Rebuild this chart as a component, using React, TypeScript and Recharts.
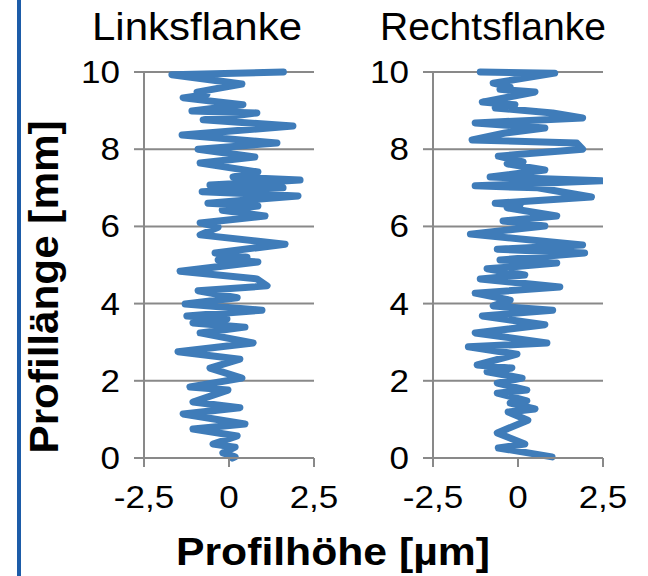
import React from 'react';
import { LineChart, Line, XAxis, YAxis, CartesianGrid } from 'recharts';

// Profillänge [mm] (von oben nach unten) und Profilhöhe [µm]
const linksLaenge: number[] = [
  10.0, 9.93, 9.69, 9.48, 9.42, 9.33, 9.15, 8.99, 8.94, 8.76, 8.6, 8.37, 8.16, 8.0, 7.8, 7.64,
  7.41, 7.28, 7.2, 7.07, 7.0, 6.9, 6.79, 6.6, 6.53, 6.42, 6.27, 6.09, 5.98, 5.78, 5.54, 5.31,
  5.2, 5.13, 5.08, 4.84, 4.64, 4.46, 4.33, 4.15, 3.99, 3.83, 3.68, 3.6, 3.5, 3.39, 3.24, 2.98,
  2.75, 2.56, 2.33, 2.07, 1.84, 1.76, 1.45, 1.3, 1.14, 0.88, 0.75, 0.57, 0.36, 0.28, 0.13, 0.03, 0.0,
];
const linksHoehe: number[] = [
  1.6, -1.68, 0.38, -0.94, -0.65, -1.35, 0.41, -1.09, 0.82, -0.76, 1.88, -1.38, 1.41, -0.91, 0.76, -0.85,
  0.85, 0.12, 2.09, -0.56, 1.59, -0.79, 2.03, -0.62, 0.85, -0.2, 1.06, -0.85, -0.32, -0.85, 1.65, -0.41,
  0.53, -0.32, 0.85, -1.44, 0.82, 1.12, -0.91, 0.24, -1.29, 0.97, -1.24, -0.06, -1.06, 0.47, -0.85, 0.71,
  -1.5, 0.32, -0.56, 0.38, -1.15, -0.03, -1.06, 0.32, -1.35, 0.47, -1.06, 0.24, -0.47, 0.18, -0.18, 0.18, 0.1,
];

const rechtsLaenge: number[] = [
  10.0, 9.97, 9.71, 9.61, 9.55, 9.48, 9.22, 9.15, 9.07, 8.94, 8.81, 8.68, 8.55, 8.42, 8.24, 8.16,
  8.0, 7.82, 7.67, 7.62, 7.46, 7.28, 7.18, 7.05, 7.0, 6.76, 6.6, 6.55, 6.48, 6.27, 6.14, 6.01,
  5.8, 5.52, 5.41, 5.31, 5.13, 5.05, 4.9, 4.74, 4.64, 4.43, 4.27, 4.09, 3.94, 3.83, 3.68, 3.45,
  3.24, 2.98, 2.88, 2.69, 2.41, 2.33, 2.23, 2.07, 1.94, 1.76, 1.68, 1.48, 1.42, 1.27, 1.19, 0.98,
  0.65, 0.36, 0.26, 0.03,
];
const rechtsHoehe: number[] = [
  -1.11, 1.08, -0.73, -0.23, -0.53, 0.5, -1.05, -0.09, -0.67, 1.02, 1.9, -1.26, 0.79, -0.38, -1.35, 1.73,
  1.9, -0.58, 0.15, -0.32, 0.79, -0.82, 2.46, -1.26, 0.58, 2.16, -0.67, 0.06, -0.32, 1.14, -0.44, 0.79,
  -1.4, 1.9, -0.61, 1.96, -0.53, 1.14, -0.91, 0.2, -1.11, 1.23, -1.26, -0.23, -0.73, 1.02, -1.05, 0.79,
  -1.26, 0.85, -1.46, -0.03, -1.2, -0.18, -0.91, 0.12, -0.61, 0.26, -0.61, 0.26, -0.23, 0.5, -0.29, 0.29,
  -0.61, 0.2, -0.58, 1.0,
];

const yTicks: number[] = [0, 2, 4, 6, 8, 10];
const xTicks: number[] = [-2.5, 0, 2.5];

const font = '"Liberation Sans", Arial, sans-serif';
const grau = '#898989';
const linie = '#3F7CB9';
const tickSize = 31;

const toRows = (laenge: number[], hoehe: number[]) =>
  laenge.map((y, i) => ({ y, h: hoehe[i] }));

const fmt = (v: number) => String(v).replace('.', ',');

// etwas breitere Ziffern wie im Original
const textWidth = (s: string) =>
  s.split('').reduce((w, c) => w + (c === '-' ? 0.333 : c === ',' ? 0.278 : 0.556), 0) * tickSize * 1.13;

const Tick = (props: any) => {
  const { x, y, payload, textAnchor, axis } = props;
  const label = fmt(payload.value);
  const dy = axis === 'x' ? '0.71em' : '0.355em';
  return (
    <text
      x={x}
      y={y}
      dy={dy}
      textAnchor={textAnchor}
      fontSize={tickSize}
      fontFamily={font}
      fill="#000"
      textLength={textWidth(label)}
      lengthAdjust="spacingAndGlyphs"
    >
      {label}
    </text>
  );
};

const ProfilePanel: React.FC<{ laenge: number[]; hoehe: number[]; left: number }> = ({ laenge, hoehe, left }) => (
  <div style={{ position: 'absolute', left, top: 0 }}>
    <LineChart
      width={350}
      height={576}
      layout="vertical"
      data={toRows(laenge, hoehe)}
      margin={{ top: 72, right: 36, bottom: 78, left: 104 }}
    >
      <CartesianGrid vertical={false} stroke={grau} strokeWidth={2} />
      <XAxis
        type="number"
        domain={[-2.5, 2.5]}
        ticks={xTicks}
        interval={0}
        allowDataOverflow
        height={40}
        tickSize={9}
        tickMargin={19}
        stroke={grau}
        strokeWidth={2}
        tick={(p: any) => <Tick {...p} axis="x" />}
      />
      <YAxis
        type="number"
        dataKey="y"
        domain={[0, 10]}
        ticks={yTicks}
        interval={0}
        reversed
        width={40}
        tickSize={10}
        tickMargin={14}
        stroke={grau}
        strokeWidth={2}
        tick={(p: any) => <Tick {...p} axis="y" />}
      />
      <Line
        dataKey="h"
        type="linear"
        stroke={linie}
        strokeWidth={7}
        strokeLinejoin="round"
        strokeLinecap="round"
        dot={false}
        isAnimationActive={false}
      />
    </LineChart>
  </div>
);

export default function App() {
  return (
    <div style={{ position: 'absolute', left: 0, top: 0, width: 648, height: 576, background: '#fff', fontFamily: font, overflow: 'hidden' }}>
      <ProfilePanel laenge={linksLaenge} hoehe={linksHoehe} left={0} />
      <ProfilePanel laenge={rechtsLaenge} hoehe={rechtsHoehe} left={289} />
      <svg width={648} height={576} style={{ position: 'absolute', left: 0, top: 0, pointerEvents: 'none' }}>
        <rect x={17} y={0} width={4} height={576} fill="#1D5CA8" />
        <text x={197} y={40} textAnchor="middle" fontSize={39} fontFamily={font} fill="#000" textLength={210} lengthAdjust="spacingAndGlyphs">Linksflanke</text>
        <text x={493} y={40} textAnchor="middle" fontSize={39} fontFamily={font} fill="#000" textLength={226} lengthAdjust="spacingAndGlyphs">Rechtsflanke</text>
        <text x={333} y={565} textAnchor="middle" fontSize={39} fontWeight="bold" fontFamily={font} fill="#000" textLength={314} lengthAdjust="spacingAndGlyphs">Profilhöhe [µm]</text>
        <text x={58} y={287} textAnchor="middle" fontSize={41} fontWeight="bold" fontFamily={font} fill="#000" transform="rotate(-90 58 287)" textLength={333} lengthAdjust="spacingAndGlyphs">Profillänge [mm]</text>
      </svg>
    </div>
  );
}
